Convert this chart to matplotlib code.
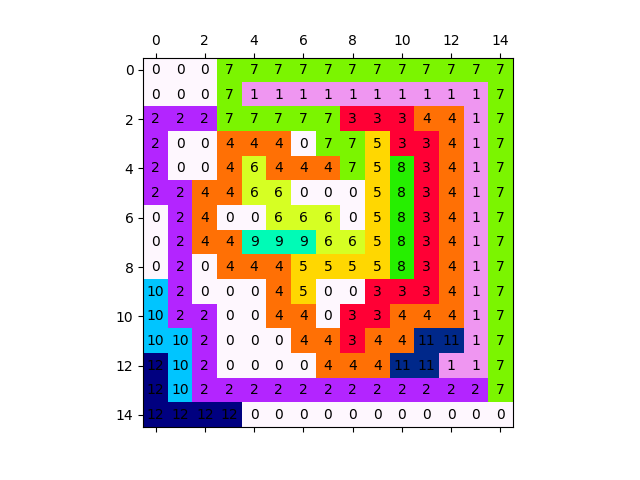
import numpy as np
import matplotlib
matplotlib.use('Agg')
import matplotlib.pyplot as plt

# grid of region labels, row by row
grid = [
    [0, 0, 0, 7, 7, 7, 7, 7, 7, 7, 7, 7, 7, 7, 7],
    [0, 0, 0, 7, 1, 1, 1, 1, 1, 1, 1, 1, 1, 1, 7],
    [2, 2, 2, 7, 7, 7, 7, 7, 3, 3, 3, 4, 4, 1, 7],
    [2, 0, 0, 4, 4, 4, 0, 7, 7, 5, 3, 3, 4, 1, 7],
    [2, 0, 0, 4, 6, 4, 4, 4, 7, 5, 8, 3, 4, 1, 7],
    [2, 2, 4, 4, 6, 6, 0, 0, 0, 5, 8, 3, 4, 1, 7],
    [0, 2, 4, 0, 0, 6, 6, 6, 0, 5, 8, 3, 4, 1, 7],
    [0, 2, 4, 4, 9, 9, 9, 6, 6, 5, 8, 3, 4, 1, 7],
    [0, 2, 0, 4, 4, 4, 5, 5, 5, 5, 8, 3, 4, 1, 7],
    [10, 2, 0, 0, 0, 4, 5, 0, 0, 3, 3, 3, 4, 1, 7],
    [10, 2, 2, 0, 0, 4, 4, 0, 3, 3, 4, 4, 4, 1, 7],
    [10, 10, 2, 0, 0, 0, 4, 4, 3, 4, 4, 11, 11, 1, 7],
    [12, 10, 2, 0, 0, 0, 0, 4, 4, 4, 11, 11, 1, 1, 7],
    [12, 10, 2, 2, 2, 2, 2, 2, 2, 2, 2, 2, 2, 2, 7],
    [12, 12, 12, 12, 0, 0, 0, 0, 0, 0, 0, 0, 0, 0, 0],
]

data = np.array(grid)

fig, ax = plt.subplots(figsize=(6.4, 4.8), dpi=100)
ax.matshow(data, cmap='gist_ncar_r')

for i in range(data.shape[0]):
    for j in range(data.shape[1]):
        ax.text(j, i, str(data[i, j]), ha='center', va='center')

plt.savefig('out.png')
